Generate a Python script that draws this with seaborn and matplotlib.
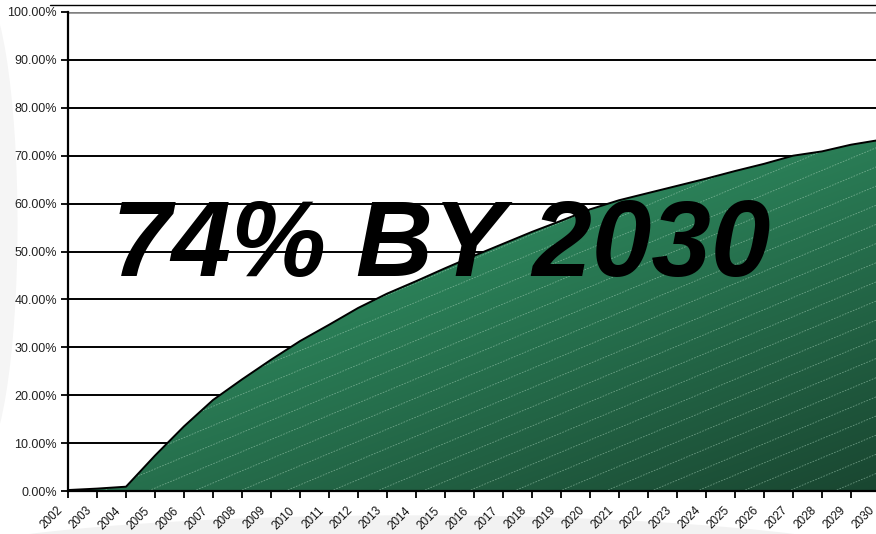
import numpy as np
import pandas as pd
import matplotlib
matplotlib.use("Agg")
import matplotlib.pyplot as plt
import seaborn as sns
from matplotlib.patches import Ellipse
from matplotlib.lines import Line2D
from matplotlib.collections import LineCollection
from matplotlib.transforms import ScaledTranslation

# ---- data ----
years = ["2002", "2003", "2004", "2005", "2006", "2007", "2008", "2009", "2010",
         "2011", "2012", "2013", "2014", "2015", "2016", "2017", "2018", "2019",
         "2020", "2021", "2022", "2023", "2024", "2025", "2026", "2027", "2028",
         "2029", "2030"]
share = [0.2, 0.5, 0.9, 7.4, 13.5, 19.0, 23.3, 27.4, 31.3, 34.7, 38.2, 41.2,
         43.8, 46.5, 49.1, 51.6, 54.1, 56.4, 58.8, 60.7, 62.2, 63.7, 65.2, 66.8,
         68.3, 70.0, 70.9, 72.3, 73.3]
y_ticks = [0, 10, 20, 30, 40, 50, 60, 70, 80, 90, 100]
headline = "74% BY 2030"

df = pd.DataFrame({"pos": np.arange(len(years)), "year": years, "share": share})

sns.set_theme(style="white")
plt.rcParams["font.family"] = ["Liberation Sans", "DejaVu Sans"]

W, H = 876, 534
fig = plt.figure(figsize=(W / 100, H / 100), dpi=100)
fig.patch.set_facecolor("white")

# faint background decorations
fig.add_artist(Ellipse((0.47, -0.065), 1.15, 0.2, transform=fig.transFigure,
                       facecolor="#f2f2f2", edgecolor="none", zorder=0))
fig.add_artist(Ellipse((-0.025, 0.58), 0.09, 0.9, transform=fig.transFigure,
                       facecolor="#f5f5f5", edgecolor="none", zorder=0))
fig.add_artist(Line2D([50 / W, 1.0], [1 - 5 / H, 1 - 5 / H], transform=fig.transFigure,
                      color="black", lw=1.0, zorder=1))

ax = fig.add_axes([68 / W, 43 / H, 812 / W, 479 / H])
ax.set_facecolor("white")
ax.set_xlim(0, len(years) - 1)
ax.set_ylim(0, 100)

# area with gradient fill
poly = ax.fill_between(df["pos"], 0, df["share"], facecolor="none",
                       edgecolor="none", zorder=2)
clip = poly.get_paths()[0]

nx, ny = 300, 300
xf, yf = np.meshgrid(np.linspace(0, 1, nx), np.linspace(0, 1, ny))
G = 189 - 44.4 * xf - 74.6 * (1 - yf)
R = 26 + (G - 72) * 0.302
B = 50 + (G - 72) * 0.679
img = np.clip(np.dstack([R, G, B]) / 255.0, 0, 1)
im = ax.imshow(img, extent=(0, len(years) - 1, 0, 100), origin="lower",
               aspect="auto", zorder=2, interpolation="bilinear")
im.set_clip_path(clip, transform=ax.transData)

# decorative diagonal hatch
segs = []
xs = np.array([0.0, 1.0])
for c in np.arange(-0.75, 1.0, 0.04):
    ys = c + 0.71 * xs
    segs.append(np.column_stack([xs * (len(years) - 1), ys * 100]))
lc = LineCollection(segs, colors="#a9d3bb", linewidths=0.6, alpha=0.55,
                    linestyles=[(0, (2.0, 1.5))], zorder=3)
ax.add_collection(lc)
lc.set_clip_path(clip, transform=ax.transData)

# outline
sns.lineplot(data=df, x="pos", y="share", color="black", lw=1.4, ax=ax, zorder=4)

# axes styling
ax.set_xlabel("")
ax.set_ylabel("")
ax.tick_params(axis="both", direction="out", length=5, width=1.3,
               color="black", bottom=True, left=True)
ax.tick_params(axis="y", pad=3)
ax.tick_params(axis="x", pad=4)
ax.set_yticks(y_ticks)
ax.set_yticklabels([f"{v:.2f}%" for v in y_ticks], fontsize=9, color="#222222")
ax.set_xticks(df["pos"])
ax.set_xticklabels(years, rotation=45, ha="right", rotation_mode="anchor",
                   fontsize=8.5, color="#111111")
offset = ScaledTranslation(-11 / 100, -1 / 100, fig.dpi_scale_trans)
for lab in ax.get_xticklabels():
    lab.set_transform(lab.get_transform() + offset)

ax.yaxis.grid(True, color="black", lw=1.4, zorder=1)
ax.set_axisbelow(True)
top_grid = ax.get_ygridlines()[-1]
top_grid.set_color("#808080")
top_grid.set_linewidth(1.8)
for s in ["top", "right"]:
    ax.spines[s].set_visible(False)
for s in ["left", "bottom"]:
    ax.spines[s].set_color("black")
    ax.spines[s].set_linewidth(1.6)
    ax.spines[s].set_zorder(5)

fig.text(441 / W, (H - 276) / H, headline, ha="center", va="baseline",
         fontsize=77, fontweight="bold", fontstyle="italic", color="black",
         zorder=10)

fig.savefig("out.png", dpi=100)
